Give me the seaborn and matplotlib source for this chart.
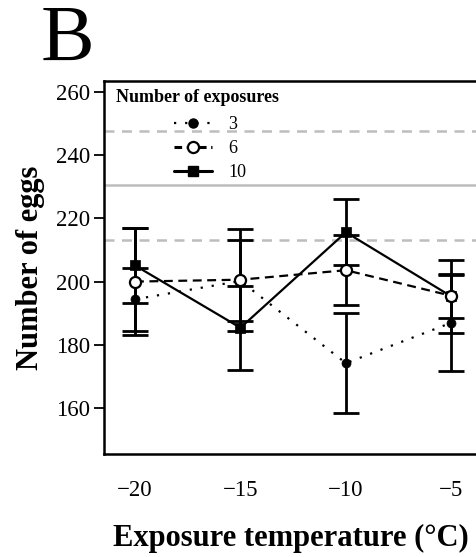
import numpy as np
import pandas as pd
import matplotlib
matplotlib.use("Agg")
import matplotlib.pyplot as plt
import seaborn as sns
from matplotlib.lines import Line2D

# values
temperatures = [-20, -15, -10, -5]
exposures = ["3", "6", "10"]
eggs_3 = [194.4, 200.2, 174.2, 187.0]
err_3 = [10.0, 12.8, 15.8, 15.2]
eggs_6 = [200.0, 200.6, 203.6, 195.5]
err_6 = [17.0, 16.1, 11.0, 7.0]
eggs_10 = [205.1, 185.4, 215.6, 195.3]
err_10 = [12.0, 13.3, 10.5, 11.4]
control_mean = 230.4
control_ci = [213.2, 247.6]

rows = []
for grp, vals, errs in [("3", eggs_3, err_3), ("6", eggs_6, err_6), ("10", eggs_10, err_10)]:
    for t, v, e in zip(temperatures, vals, errs):
        rows.append({"temp": t, "eggs": v, "err": e, "n": grp})
df = pd.DataFrame(rows)

sns.set_theme(style="ticks")
plt.rcParams["font.family"] = ["Liberation Serif", "DejaVu Serif"]
plt.rcParams["text.color"] = "black"
plt.rcParams["axes.labelcolor"] = "black"
plt.rcParams["xtick.color"] = "black"
plt.rcParams["ytick.color"] = "black"

fig = plt.figure(figsize=(4.77, 5.57), dpi=100)
ax = fig.add_axes([0.218, 0.185, 0.784, 0.670])

# control reference lines
ax.axhline(control_mean, color="#bdbdbd", lw=1.8, zorder=1)
for c in control_ci:
    ax.axhline(c, color="#bdbdbd", lw=1.8, ls=(0, (4, 3)), zorder=1)

# error bars
for grp in exposures:
    d = df[df["n"] == grp]
    ax.errorbar(d["temp"], d["eggs"], yerr=d["err"], fmt="none", ecolor="black",
                elinewidth=2, capsize=9.3, capthick=2, zorder=2)

# connecting lines per exposure group
sns.lineplot(data=df, x="temp", y="eggs", style="n", style_order=exposures,
             dashes={"3": (1, 4), "6": (4, 2.5), "10": ""},
             color="black", lw=1.6, legend=False, ax=ax, zorder=3)

d3 = df[df["n"] == "3"]
d6 = df[df["n"] == "6"]
d10 = df[df["n"] == "10"]
sns.scatterplot(data=d3, x="temp", y="eggs", marker="o", s=42, color="black",
                edgecolor="black", ax=ax, zorder=4, legend=False)
sns.scatterplot(data=d10, x="temp", y="eggs", marker="s", s=42, color="black",
                edgecolor="black", ax=ax, zorder=4, legend=False)
sns.scatterplot(data=d6, x="temp", y="eggs", marker="o", s=64, color="white",
                edgecolor="black", linewidth=1.6, ax=ax, zorder=5, legend=False)

ax.set_xlim(-21.47, -3.74)
ax.set_ylim(145.5, 263.5)
ax.set_xticks(temperatures)
ax.set_yticks([160, 180, 200, 220, 240, 260])
ax.tick_params(axis="both", labelsize=16.5, color="black")
ax.tick_params(axis="y", length=7, width=1.3, pad=3)
ax.tick_params(axis="x", length=0, pad=19)
for s in ax.spines.values():
    s.set_linewidth(1.8)
    s.set_color("black")
ax.spines["right"].set_visible(False)

ax.set_xlabel("Exposure temperature (\u00b0C)", fontsize=22, fontweight="bold", labelpad=16)
ax.set_ylabel("Number of eggs", fontsize=22, fontweight="bold", labelpad=8)

# legend
handles = [
    Line2D([], [], color="black", lw=1.6, ls=(0, (1, 4)), marker="o", ms=6.5),
    Line2D([], [], color="black", lw=2.2, ls=(0, (2.5, 1.5)), marker="o", ms=8, mfc="white", mew=1.6),
    Line2D([], [], color="black", lw=2.2, marker="s", ms=6.5),
]
ax.text(0.032, 0.955, "Number of exposures", transform=ax.transAxes, fontsize=13,
        fontweight="bold", va="center", ha="left")
ax.legend(handles, exposures, loc="upper left", bbox_to_anchor=(0.188, 0.905),
          frameon=False, fontsize=13, handlelength=2.1, labelspacing=0.38,
          borderpad=0, borderaxespad=0, handletextpad=0.9)

fig.text(0.085, 1 - 61 / 557, "B", fontsize=58, ha="left", va="baseline")

fig.savefig("out.png", dpi=100)
